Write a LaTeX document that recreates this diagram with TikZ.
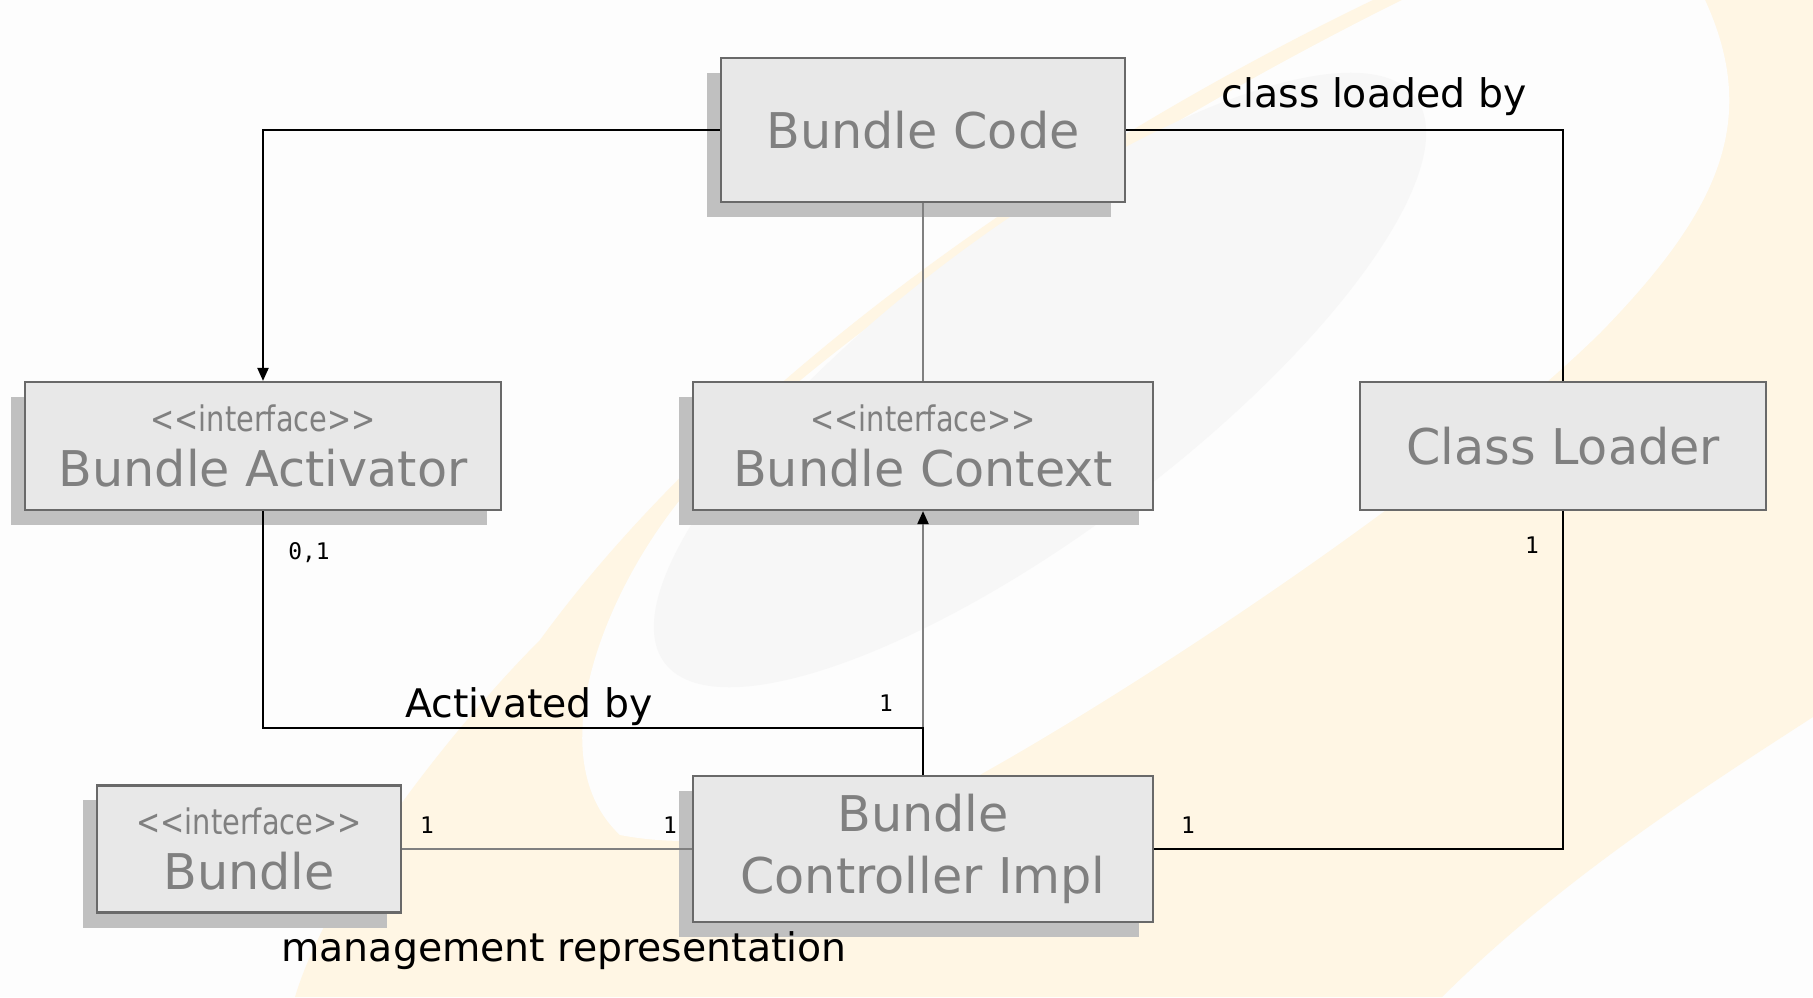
\documentclass[tikz,border=0pt]{standalone}
\usepackage{fontspec}
\setmainfont{DejaVu Sans}
\newfontfamily\stereofont[FakeStretch=0.82, Ligatures=TeXOff]{DejaVu Sans}
\newfontfamily\multfont{DejaVu Sans Mono}
\usetikzlibrary{arrows.meta}
\usetikzlibrary{shadows}

\definecolor{paper}{RGB}{253,253,253}
\definecolor{boxfill}{RGB}{232,232,232}
\definecolor{boxline}{RGB}{105,105,105}
\definecolor{boxtext}{RGB}{128,128,128}
\definecolor{shade}{RGB}{192,192,192}
\definecolor{cream}{RGB}{255,246,228}
\definecolor{swirl}{RGB}{247,247,247}
\definecolor{linkgray}{RGB}{128,128,128}

\tikzset{
    classbox/.style={draw=boxline, line width=0.6pt, fill=boxfill, text=boxtext, align=center,
        inner sep=0pt, font=\fontsize{14}{17.5}\selectfont, minimum height=1.28cm},
    shadowed/.style={drop shadow={shadow xshift=-0.14cm, shadow yshift=-0.15cm, fill=shade, opacity=1}},
    link/.style={line width=0.6pt, draw=black},
    softlink/.style={line width=0.6pt, draw=linkgray},
    tip/.style={-{Triangle[length=0.13cm, width=0.11cm, black]}},
    role/.style={font=\fontsize{11.2}{13}\selectfont, inner sep=0pt, anchor=base},
    mult/.style={font=\multfont\fontsize{6.5}{7}\selectfont, inner sep=0pt},
}
\newcommand{\stereo}{{\stereofont\fontsize{10}{12}\selectfont <<interface>>}\\[-1.9pt]}

\begin{document}
\begin{tikzpicture}[x=0.01cm, y=-0.01cm]
    \useasboundingbox (0,0) rectangle (1813,997);
    \fill[paper] (0,0) rectangle (1813,997);

    \fill[cream] (1373,0) .. controls (1000,180) and (700,420) .. (540,640)
        .. controls (460,720) and (330,880) .. (295,997) -- (1442,997)
        .. controls (1560,880) and (1700,790) .. (1813,717) -- (1813,0) -- cycle;
    \fill[paper] (1402,0) .. controls (1020,190) and (730,420) .. (680,500)
        .. controls (600,600) and (540,760) .. (620,835)
        .. controls (750,860) and (900,800) .. (976,777)
        .. controls (1150,680) and (1450,480) .. (1600,333)
        .. controls (1720,210) and (1760,120) .. (1705,0) -- cycle;
    \fill[swirl, rotate around={37:(1040,380)}] (1040,380) ellipse [x radius=470, y radius=150];

    \node[classbox, shadowed, minimum width=4.04cm, minimum height=1.44cm] (code) at (923,130) {Bundle Code};
    \node[classbox, shadowed, minimum width=4.76cm] (activator) at (263,446) {\stereo Bundle Activator};
    \node[classbox, shadowed, minimum width=4.60cm] (context) at (923,446) {\stereo Bundle Context};
    \node[classbox, minimum width=4.05cm] (loader) at (1563,446) {Class Loader};
    \node[classbox, shadowed, minimum width=3.03cm, minimum height=1.27cm] (bundle) at (249,849) {\stereo Bundle};
    \node[classbox, shadowed, minimum width=4.60cm, minimum height=1.46cm] (controller) at (923,849) {Bundle\\Controller Impl};

    \coordinate (junction) at (923,728);
    \draw[link, tip] (code.west) -| (activator.north);
    \draw[link] (code.east) -| (loader.north);
    \draw[softlink] (code.south) -- (context.north);
    \draw[softlink, tip] (controller.north) -- (context.south);
    \draw[link] (activator.south) |- (junction) -- (controller.north);
    \draw[softlink] (bundle.east) -- (controller.west);
    \draw[link] (controller.east) -| (loader.south);

    \node[role] (loadedby) at (1374,108) {class loaded by};
    \node[role] (activatedby) at (529,717) {Activated by};
    \node[role] (management) at (564,961) {management representation};

    \node[mult] (zeroone) at (309,553) {0,1};
    \foreach \px/\py/\nm in {886/703/ctxone, 427/825/bundleone, 670/825/ctrlleft, 1188/825/ctrlright, 1532/545/loaderone}{
        \node[mult] (\nm) at (\px,\py) {1};
    }
\end{tikzpicture}
\end{document}
